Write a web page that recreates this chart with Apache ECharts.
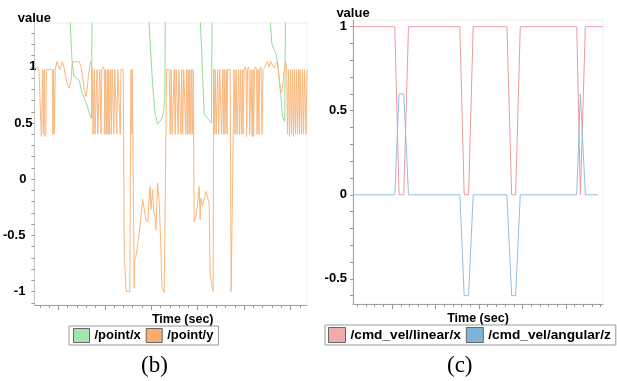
<!DOCTYPE html>
<html>
<head>
<meta charset="utf-8">
<script src="https://cdn.jsdelivr.net/npm/echarts@6/dist/echarts.min.js"></script>
<style>
html,body{margin:0;padding:0;background:#fff;}
#c{width:617px;height:381px;}
</style>
</head>
<body>
<div id="c"></div>
<script>
// ---------- DATA (time in s, value) ----------
const pointX = [[0,2.8],[3.3,2.8],[3.55,1.45],[3.77,1.05],[3.94,0.92],[4.2,0.9],[4.5,0.88],[4.67,0.8],[5.0,0.72],[5.3,0.65],[5.6,0.56],[5.72,0.537],[5.85,3.0],
  [11.0,3.0],[11.44,1.45],[11.84,0.84],[12.07,0.59],[12.34,0.49],[12.67,0.528],[12.94,0.59],[13.07,0.75],[13.2,3.0],
  [16.4,3.0],[16.6,1.45],[16.84,0.95],[17.0,0.58],[17.4,0.535],[17.74,0.499],[17.87,3.0],
  [23.4,3.0],[23.6,1.45],[23.77,1.21],[24.0,1.15],[24.2,1.12],[24.4,1.0],[24.67,0.75],[24.84,0.56],[25.07,0.513],[25.17,0.53],[25.27,3.0],[27.34,3.0]];

const pointY = [
  [0,0.975],[0.2,0.98],[0.3,1.0],[0.45,0.975],[0.65,0.975],[0.7,0.38],[0.8,0.38],[0.85,0.975],[0.9,0.40],[1.0,0.975],[1.05,0.38],[1.15,0.40],[1.2,0.975],
  [1.5,0.975],[1.6,0.99],[1.7,0.975],[1.82,0.975],[1.85,0.40],[1.92,0.975],[1.97,0.40],[2.05,0.40],[2.1,0.975],[2.15,1.0],[2.25,1.045],[2.45,1.045],
  [2.55,0.975],[2.7,0.975],[2.8,1.045],[2.95,1.045],[3.0,0.98],[3.17,0.9],[3.34,0.83],[3.5,0.81],[3.67,0.88],[3.77,1.02],[3.84,1.045],[4.5,1.045],
  [4.67,1.0],[4.84,0.9],[5.0,0.8],[5.17,0.735],[5.27,0.79],[5.4,0.91],[5.6,1.045],[5.74,1.0],[5.8,0.975],
  [5.87,0.40],[6.0,0.975],[6.07,0.40],[6.2,0.40],[6.27,0.975],[6.34,0.40],[6.5,0.40],[6.55,0.975],[6.6,0.975],[6.67,0.40],[6.75,0.975],[6.9,1.0],
  [7.0,0.975],[7.05,0.40],[7.12,0.975],[7.2,0.40],[7.3,0.975],[7.37,0.40],[7.45,0.975],[7.5,0.40],[7.6,0.40],[7.65,0.975],[7.7,0.40],[7.8,0.975],
  [7.87,0.975],[7.95,0.40],[8.05,0.975],[8.17,0.975],[8.25,0.40],[8.35,0.975],[8.5,0.975],[8.6,0.40],[8.67,0.975],[8.9,0.975],
  [9.0,-0.69],[9.05,-0.69],[9.2,-1.0],[9.55,-1.0],[9.67,0.975],[9.75,0.40],[9.8,0.975],[9.9,0.975],[10.0,-0.97],[10.03,-0.72],[10.17,-0.69],
  [10.5,-0.48],[10.67,-0.33],[10.84,-0.18],[11.0,-0.17],[11.17,-0.36],[11.34,-0.38],[11.5,-0.155],[11.6,-0.066],[11.67,-0.27],[11.84,-0.095],
  [11.94,-0.29],[12.07,-0.33],[12.17,-0.45],[12.34,-0.036],[12.5,-0.21],[12.67,-0.63],[12.77,-0.96],[13.0,-1.01],[13.17,-1.0],[13.24,0.975],
  [13.5,0.975],[13.6,0.40],[13.7,0.975],[13.8,0.40],[13.95,0.40],[14.0,0.975],[14.1,0.40],[14.2,0.975],[14.35,0.975],[14.4,0.40],[14.47,0.975],
  [14.6,0.975],[14.67,0.40],[14.75,0.975],[14.85,0.40],[14.95,0.975],[15.1,0.975],[15.17,0.40],[15.25,0.975],[15.34,0.40],[15.4,0.975],[15.5,0.40],
  [15.55,0.975],[15.67,0.40],[15.72,0.975],[15.84,0.40],[15.9,0.975],[15.97,0.975],
  [16.0,-0.38],[16.17,-0.33],[16.34,-0.23],[16.5,-0.066],[16.6,-0.36],[16.67,-0.17],[16.84,-0.24],[17.0,-0.24],[17.17,-0.11],[17.34,-0.11],
  [17.5,-0.21],[17.6,-0.84],[17.74,-0.93],[17.9,-1.0],[17.95,0.975],
  [18.0,0.40],[18.1,0.975],[18.2,0.40],[18.3,0.40],[18.35,0.975],[18.45,0.40],[18.55,0.975],[18.7,0.975],[18.75,0.40],[18.85,0.975],[18.95,0.40],
  [19.0,0.975],[19.1,0.40],[19.2,0.975],[19.3,0.40],[19.35,0.975],[19.5,0.975],[19.6,0.975],[19.7,-1.0],[19.85,-1.0],[20.0,0.975],
  [20.1,0.40],[20.2,0.975],[20.3,0.40],[20.4,0.40],[20.45,0.975],[20.55,0.40],[20.65,0.975],[20.75,0.40],[20.85,0.975],[20.9,0.40],[21.0,0.975],
  [21.1,1.0],[21.2,0.975],[21.25,0.38],[21.35,0.975],[21.45,1.0],[21.5,0.975],[21.55,0.40],[21.65,0.40],[21.7,0.975],[21.8,0.38],[21.9,0.975],
  [21.95,0.38],[22.05,0.975],[22.15,1.0],[22.25,0.975],[22.3,0.40],[22.4,0.975],[22.5,0.40],[22.55,0.975],[22.7,1.0],[22.8,0.40],[22.9,0.975],[23.0,0.975],
  [23.1,1.0],[23.34,1.047],[23.5,1.0],[23.67,1.047],[23.84,1.04],[24.0,0.99],[24.17,1.02],[24.34,1.047],[24.5,0.91],[24.67,0.77],[24.84,0.8],
  [25.0,0.96],[25.17,1.047],[25.27,0.975],
  [25.35,0.40],[25.45,0.975],[25.55,0.38],[25.6,0.38],[25.65,0.975],[25.75,0.40],[25.85,0.975],[25.95,0.38],[26.05,0.975],[26.15,0.40],[26.25,0.975],
  [26.35,0.40],[26.45,0.975],[26.55,0.40],[26.6,0.975],[26.75,0.40],[26.85,0.975],[26.95,0.40],[27.05,0.975],[27.2,0.40],[27.3,0.975]];

const linearX = [[0,1],[4.17,1],[4.6,0],[5.07,0],[5.54,1],[10.67,1],[11.1,0],[11.54,0],[12.0,1],[15.37,1],[15.84,0],[16.24,0],[16.7,1],
  [22.34,1],[22.7,0],[23.2,1],[24.94,1]];
const angularZ = [[0,0],[4.17,0],[4.6,0.6],[5.07,0.6],[5.54,0],[10.67,0],[11.1,-0.6],[11.54,-0.6],[12.0,0],[15.37,0],[15.84,-0.6],[16.24,-0.6],
  [16.7,0],[22.34,0],[22.7,0.6],[23.2,0],[24.44,0]];

const leftYLabels = [-1, -0.5, 0, 0.5, 1];
const rightYLabels = [-0.5, 0, 0.5, 1];
const seriesNames = ['/point/x', '/point/y', '/cmd_vel/linear/x', '/cmd_vel/angular/z'];
const captions = ['(b)', '(c)'];
const axisNames = ['value', 'Time (sec)'];

// ---------- ticks (positions) ----------
function steps(start, end, step) {
  const out = [];
  for (let v = start; v <= end + 1e-9; v += step) out.push(Math.round(v * 1000) / 1000);
  return out;
}
const leftXMinor = steps(0.54, 27.3, 0.93);
const leftXMajor = steps(2.4, 27.3, 4.65);
const rightXMinor = steps(0.43, 24.9, 0.868);
const rightXMajor = steps(3.9, 24.9, 4.34);
const leftYTicks = steps(-1.1, 1.35, 0.1);
const rightYTicks = steps(-0.6, 1.0, 0.1);

const FONT = '"Liberation Sans", Arial, sans-serif';
const boldText = {fontFamily: FONT, fontWeight: 'bold', fontSize: 13, color: '#000'};

// left labels sit at odd offsets in the reference
const leftPad = {'1': 0, '0.5': 4, '0': 10, '-0.5': 11, '-1': 11};

const chart = echarts.init(document.getElementById('c'), null, {renderer: 'canvas'});

function xAxisPair(gi, max, minor, major, nameShift) {
  return [
    {gridIndex: gi, type: 'value', min: 0, max: max, position: 'bottom',
     axisLine: {show: true, onZero: false, lineStyle: {color: '#a0a0a0', width: 1}},
     axisTick: {show: true, customValues: minor, length: 3, lineStyle: {color: '#999'}},
     axisLabel: {show: false}, splitLine: {show: false},
     name: axisNames[1], nameLocation: 'middle', nameGap: 8,
     nameTextStyle: Object.assign({}, boldText, {fontSize: 12.5, padding: [0, 0, 0, nameShift]})},
    {gridIndex: gi, type: 'value', min: 0, max: max, position: 'bottom',
     axisLine: {show: false, onZero: false},
     axisTick: {show: true, customValues: major, length: 5, lineStyle: {color: '#999'}},
     axisLabel: {show: false}, splitLine: {show: false}}
  ];
}

const option = {
  animation: false,
  backgroundColor: '#fff',
  grid: [
    {left: 34, right: 310, top: 23, bottom: 76, show: true, borderColor: '#f0f0f0', borderWidth: 1},
    {left: 353, right: 14, top: 20, bottom: 77, show: true, borderColor: '#f0f0f0', borderWidth: 1}
  ],
  xAxis: [].concat(
    xAxisPair(0, 27.3, leftXMinor, leftXMajor, 24),
    xAxisPair(1, 24.96, rightXMinor, rightXMajor, 0)
  ),
  yAxis: [
    {gridIndex: 0, type: 'value', min: -1.12, max: 1.39,
     axisLine: {show: true, onZero: false, lineStyle: {color: '#c8c8c8'}},
     axisTick: {show: true, customValues: leftYTicks, length: 3, lineStyle: {color: '#999'}},
     axisLabel: {customValues: leftYLabels, margin: -2, fontFamily: FONT, fontWeight: 'bold', fontSize: 13, color: '#000',
       formatter: function (v) {
         const k = String(v);
         const p = leftPad[k] || 0;
         return p ? k + '{s' + p + '| }' : k;
       },
       rich: {s4: {width: 4}, s10: {width: 10}, s11: {width: 11}}},
     splitLine: {show: false},
     name: axisNames[0], nameLocation: 'end', nameGap: -2,
     nameTextStyle: Object.assign({}, boldText, {align: 'center', verticalAlign: 'bottom'})},
    {gridIndex: 1, type: 'value', min: -0.65, max: 1.04,
     axisLine: {show: true, onZero: false, lineStyle: {color: '#a0a0a0'}},
     axisTick: {show: true, customValues: rightYTicks, length: 3, lineStyle: {color: '#999'}},
     axisLabel: {customValues: rightYLabels, margin: 6, fontFamily: FONT, fontWeight: 'bold', fontSize: 13, color: '#000'},
     splitLine: {show: false},
     name: axisNames[0], nameLocation: 'end', nameGap: -2,
     nameTextStyle: Object.assign({}, boldText, {align: 'center', verticalAlign: 'bottom'})}
  ],
  legend: [
    {data: [seriesNames[0], seriesNames[1]], left: 69, top: 326, orient: 'horizontal',
     itemWidth: 16, itemHeight: 14, itemGap: 5, padding: [2, 5, 2, 4],
     borderColor: '#9a9a9a', borderWidth: 1, backgroundColor: '#fff', icon: 'rect',
     itemStyle: {borderColor: '#666', borderWidth: 1}, textStyle: boldText},
    {data: [seriesNames[2], seriesNames[3]], left: 325, top: 325, orient: 'horizontal',
     itemWidth: 17, itemHeight: 15, itemGap: 5, padding: [2, 5, 2, 3],
     borderColor: '#9a9a9a', borderWidth: 1, backgroundColor: '#fff', icon: 'rect',
     itemStyle: {borderColor: '#666', borderWidth: 1}, textStyle: Object.assign({}, boldText, {fontSize: 13.7})}
  ],
  series: [
    {name: seriesNames[0], type: 'line', xAxisIndex: 0, yAxisIndex: 0, data: pointX, showSymbol: false, clip: true,
     lineStyle: {color: '#90df9a', width: 1}, itemStyle: {color: '#a6e5b2'}},
    {name: seriesNames[1], type: 'line', xAxisIndex: 0, yAxisIndex: 0, data: pointY, showSymbol: false, clip: true,
     lineStyle: {color: '#fbb77c', width: 1}, itemStyle: {color: '#fbac6c'}},
    {name: seriesNames[2], type: 'line', xAxisIndex: 2, yAxisIndex: 1, data: linearX, showSymbol: false, clip: true,
     lineStyle: {color: '#ec9a9d', width: 1}, itemStyle: {color: '#efaaa9'}},
    {name: seriesNames[3], type: 'line', xAxisIndex: 2, yAxisIndex: 1, data: angularZ, showSymbol: false, clip: true,
     lineStyle: {color: '#93c0e2', width: 1}, itemStyle: {color: '#7fb3d9'}}
  ],
  graphic: [
    {type: 'text', left: 141, top: 354, style: {text: captions[0], font: '23px "Liberation Serif", "Times New Roman", serif', fill: '#000'}},
    {type: 'text', left: 447, top: 354, style: {text: captions[1], font: '23px "Liberation Serif", "Times New Roman", serif', fill: '#000'}}
  ]
};
chart.setOption(option);
</script>
</body>
</html>
